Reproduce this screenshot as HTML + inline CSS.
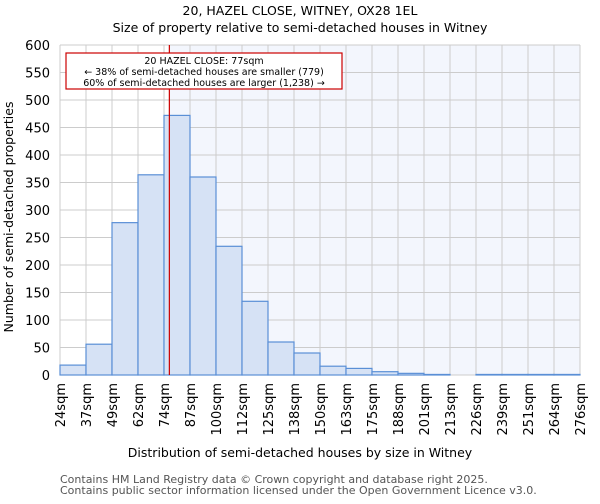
<!DOCTYPE html>
<html><head><meta charset="utf-8"><style>
body{margin:0;background:#fff;font-family:"DejaVu Sans","Liberation Sans",sans-serif;}
svg text{font-family:"DejaVu Sans","Liberation Sans",sans-serif;}
</style></head><body>
<svg id="chart" width="600" height="500" xmlns="http://www.w3.org/2000/svg">
<text x="300" y="15" text-anchor="middle" font-size="12.5">20, HAZEL CLOSE, WITNEY, OX28 1EL</text>
<text x="300" y="32" text-anchor="middle" font-size="12.5">Size of property relative to semi-detached houses in Witney</text>
<g id="plot"></g>
<text x="300" y="457" text-anchor="middle" font-size="12.5">Distribution of semi-detached houses by size in Witney</text>
<text transform="translate(13,217) rotate(-90)" text-anchor="middle" font-size="12.5">Number of semi-detached properties</text>
<text x="60" y="483" font-size="11" fill="#555">Contains HM Land Registry data © Crown copyright and database right 2025.</text>
<text x="60" y="494" font-size="11" fill="#555">Contains public sector information licensed under the Open Government Licence v3.0.</text>
</svg>
<script>
const binLabels=["24sqm","37sqm","49sqm","62sqm","74sqm","87sqm","100sqm","112sqm","125sqm","138sqm","150sqm","163sqm","175sqm","188sqm","201sqm","213sqm","226sqm","239sqm","251sqm","264sqm","276sqm"];
const counts=[18,56,277,364,472,360,234,134,60,40,16,12,6,3,1,0,1,1,1,1];
const yTicks=[0,50,100,150,200,250,300,350,400,450,500,550,600];
const propertySize=77;
const binStart=24, binEnd=276;
const ns="http://www.w3.org/2000/svg";
const L=60,R=580,T=45,B=375;
const n=counts.length;
const x=i=>L+(R-L)*i/n;
const xv=v=>L+(R-L)*(v-binStart)/(binEnd-binStart);
const y=v=>B-(B-T)*v/600;
const g=document.getElementById('plot');
function mk(t,a){const e=document.createElementNS(ns,t);for(const k in a)e.setAttribute(k,a[k]);g.appendChild(e);return e;}
const px=xv(propertySize);
let e=mk('rect',{x:px,y:T,width:R-px,height:B-T,fill:'#f3f6fd'});


for(const t of yTicks){
 e=mk('line',{x1:L,x2:R,y1:y(t),y2:y(t),stroke:'#ccc','stroke-width':1});
 
 
 e=mk('text',{x:L-10,y:y(t)+5,'text-anchor':'end','font-size':13});
 e.textContent=t;
 
 
}
for(let i=0;i<=n;i++){
 e=mk('line',{x1:x(i),x2:x(i),y1:T,y2:B,stroke:'#ccc','stroke-width':1});
 
 
 e=mk('text',{transform:`translate(${x(i)+5},${B+8}) rotate(-90)`,'text-anchor':'end','font-size':13});
 e.textContent=binLabels[i];
 
 
}
counts.forEach((c,i)=>{
 if(c<=0)return;
 e=mk('rect',{x:x(i),y:y(c),width:x(i+1)-x(i),height:B-y(c),fill:'#d6e2f5',stroke:'#5a8fd6','stroke-width':1.2});
 
 
});
e=mk('line',{x1:px,x2:px,y1:T,y2:B,stroke:'#c00','stroke-width':1.2});


e=mk('rect',{x:66,y:53,width:276,height:36,fill:'#fff',stroke:'#c00','stroke-width':1.2});


const lines=["20 HAZEL CLOSE: 77sqm","← 38% of semi-detached houses are smaller (779)","60% of semi-detached houses are larger (1,238) →"];
lines.forEach((s,k)=>{
 e=mk('text',{x:204,y:64+k*11,'text-anchor':'middle','font-size':9.5});
 e.textContent=s;
 
 
});
</script>
</body></html>
